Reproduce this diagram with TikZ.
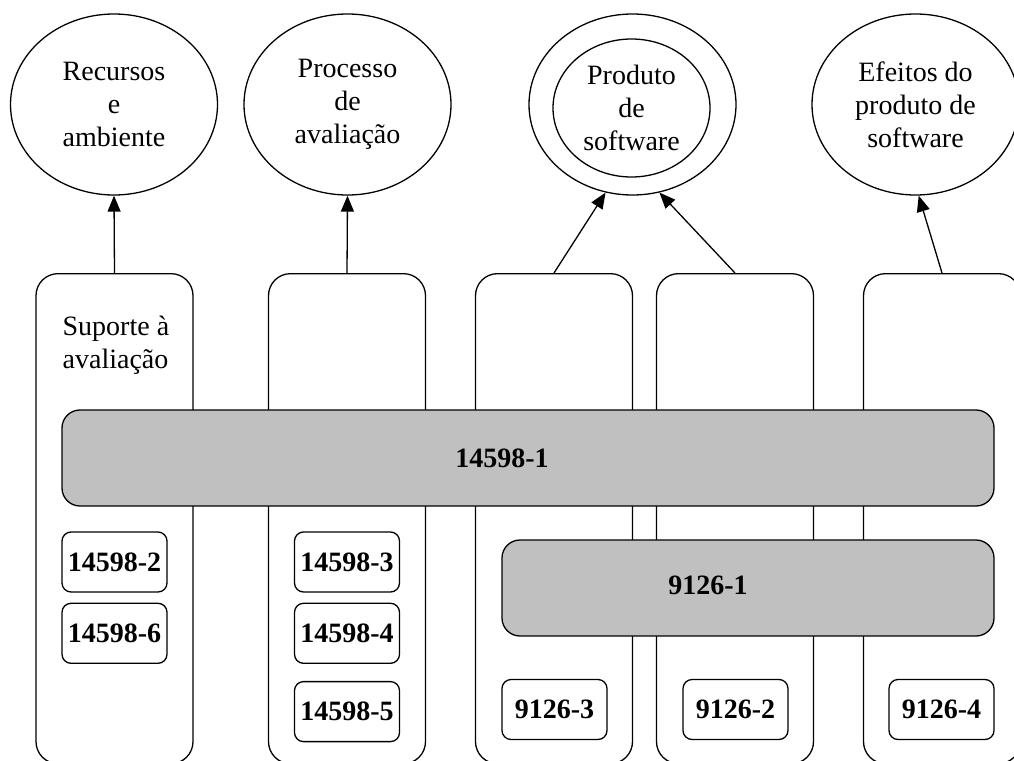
\documentclass[tikz,border=0pt]{standalone}
\usepackage{fontspec}
\setmainfont{Liberation Serif}
\usetikzlibrary{positioning, shapes.geometric, arrows.meta}
\definecolor{bandgray}{RGB}{192,192,192}

\begin{document}
\begin{tikzpicture}[x=1pt, y=-1pt, >={Triangle[length=16pt,width=13pt]}, line width=1.3pt,
    every node/.style={font=\fontsize{28}{33}\selectfont, align=center},
    oval/.style={draw, ellipse, inner sep=0pt, minimum width=207pt, minimum height=181pt},
    column/.style={draw, rounded corners=22pt, anchor=north, minimum width=157pt, minimum height=490pt},
    band/.style={draw, fill=bandgray, rounded corners=18pt, minimum height=96pt},
    part/.style={draw, fill=white, rounded corners=9pt, minimum width=105pt, minimum height=60pt, inner sep=0pt, font=\fontsize{28}{33}\selectfont\bfseries}]
    \useasboundingbox (0,0) rectangle (1014,760);

    \node (rec) [oval] at (114,104.5) {Recursos \\ e \\ ambiente};
    \node (proc) [oval] at (347.5,104.5) {Processo \\ de \\ avaliação};
    \node (prod) [oval] at (632.5,104.5) {};
    \node (prodin) [oval, minimum width=157pt, minimum height=138pt] at (631.5,108) {Produto \\ de \\ software};
    \node (eff) [oval] at (915.5,104.5) {Efeitos do \\ produto de \\ software};

    \node (col1) [column] at (114.5,273) {};
    \node (col2) [column] at (347,273) {};
    \node (col3) [column] at (554,273) {};
    \node (col4) [column] at (735,273) {};
    \node (col5) [column] at (942,273) {};
    \node (suplbl) [anchor=west, align=left, inner sep=0pt] at (62,345) {Suporte à \\ avaliação};

    \draw[->] (col1.north) -- (rec.south);
    \draw[->] (col2.north) -- (proc.south);
    \draw[->] (col3.north) -- (prod.253);
    \draw[->] (col4.north) -- (prod.287);
    \draw[->] (col5.north) -- (eff.272);

    \node (iso1) [band, minimum width=932pt, label={[xshift=-26pt, font=\fontsize{28}{33}\selectfont\bfseries]center:14598-1}] at (528,458) {};
    \node (nbr1) [band, minimum width=492pt, label={[xshift=-40pt, yshift=3pt, font=\fontsize{28}{33}\selectfont\bfseries]center:9126-1}] at (748,588) {};

    \node (iso2) [part] at (114.5,562) {14598-2};
    \node (iso6) [part, below=10pt of iso2] {14598-6};
    \node (iso3) [part] at (347,562) {14598-3};
    \node (iso4) [part, below=10pt of iso3] {14598-4};
    \node (iso5) [part, below=17pt of iso4] {14598-5};
    \node (nbr3) [part] at (554.5,709.5) {9126-3};
    \node (nbr2) [part] at (735.5,709.5) {9126-2};
    \node (nbr4) [part] at (941.5,709.5) {9126-4};
\end{tikzpicture}
\end{document}
